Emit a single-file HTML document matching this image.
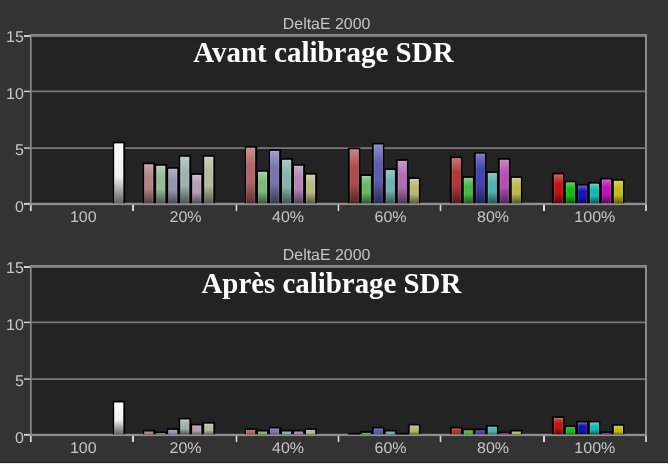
<!DOCTYPE html>
<html lang="fr"><head><meta charset="utf-8"><title>DeltaE 2000</title>
<style>
html,body{margin:0;padding:0;background:#333333;overflow:hidden}
svg{display:block}
.lab{text-rendering:geometricPrecision;font-family:"Liberation Sans","DejaVu Sans",sans-serif;font-size:16px;fill:#c6c6c6}
.ttl{font-family:"Liberation Serif","DejaVu Serif",serif;font-weight:bold;font-size:29px;fill:#ffffff}
</style></head><body>
<svg width="668" height="464" viewBox="0 0 668 464" style="will-change:transform">
<defs>
<linearGradient id="g1" x1="0" y1="0" x2="0" y2="1"><stop offset="0" stop-color="#fafafa"/><stop offset="0.56" stop-color="#f0f0f0"/><stop offset="1" stop-color="#606060"/></linearGradient>
<linearGradient id="g2" x1="0" y1="0" x2="0" y2="1"><stop offset="0" stop-color="#caa8a8"/><stop offset="0.32" stop-color="#b38282"/><stop offset="0.62" stop-color="#b38282"/><stop offset="1" stop-color="#563e3e"/></linearGradient>
<linearGradient id="g3" x1="0" y1="0" x2="0" y2="1"><stop offset="0" stop-color="#b6cfb6"/><stop offset="0.32" stop-color="#96ba96"/><stop offset="0.62" stop-color="#96ba96"/><stop offset="1" stop-color="#485948"/></linearGradient>
<linearGradient id="g4" x1="0" y1="0" x2="0" y2="1"><stop offset="0" stop-color="#b4b4c8"/><stop offset="0.32" stop-color="#9494b0"/><stop offset="0.62" stop-color="#9494b0"/><stop offset="1" stop-color="#474754"/></linearGradient>
<linearGradient id="g5" x1="0" y1="0" x2="0" y2="1"><stop offset="0" stop-color="#bccac8"/><stop offset="0.32" stop-color="#a0b3b1"/><stop offset="0.62" stop-color="#a0b3b1"/><stop offset="1" stop-color="#4d5655"/></linearGradient>
<linearGradient id="g6" x1="0" y1="0" x2="0" y2="1"><stop offset="0" stop-color="#cabbca"/><stop offset="0.32" stop-color="#b49eb4"/><stop offset="0.62" stop-color="#b49eb4"/><stop offset="1" stop-color="#564c56"/></linearGradient>
<linearGradient id="g7" x1="0" y1="0" x2="0" y2="1"><stop offset="0" stop-color="#cecebb"/><stop offset="0.32" stop-color="#b9b99e"/><stop offset="0.62" stop-color="#b9b99e"/><stop offset="1" stop-color="#59594c"/></linearGradient>
<linearGradient id="g8" x1="0" y1="0" x2="0" y2="1"><stop offset="0" stop-color="#ca9292"/><stop offset="0.32" stop-color="#b36464"/><stop offset="0.62" stop-color="#b36464"/><stop offset="1" stop-color="#563030"/></linearGradient>
<linearGradient id="g9" x1="0" y1="0" x2="0" y2="1"><stop offset="0" stop-color="#a3cfa3"/><stop offset="0.32" stop-color="#7cba7c"/><stop offset="0.62" stop-color="#7cba7c"/><stop offset="1" stop-color="#3c593c"/></linearGradient>
<linearGradient id="g10" x1="0" y1="0" x2="0" y2="1"><stop offset="0" stop-color="#9f9fc8"/><stop offset="0.32" stop-color="#7676b0"/><stop offset="0.62" stop-color="#7676b0"/><stop offset="1" stop-color="#393954"/></linearGradient>
<linearGradient id="g11" x1="0" y1="0" x2="0" y2="1"><stop offset="0" stop-color="#accac8"/><stop offset="0.32" stop-color="#88b3b1"/><stop offset="0.62" stop-color="#88b3b1"/><stop offset="1" stop-color="#415655"/></linearGradient>
<linearGradient id="g12" x1="0" y1="0" x2="0" y2="1"><stop offset="0" stop-color="#caa9ca"/><stop offset="0.32" stop-color="#b484b4"/><stop offset="0.62" stop-color="#b484b4"/><stop offset="1" stop-color="#563f56"/></linearGradient>
<linearGradient id="g13" x1="0" y1="0" x2="0" y2="1"><stop offset="0" stop-color="#ceceac"/><stop offset="0.32" stop-color="#b9b988"/><stop offset="0.62" stop-color="#b9b988"/><stop offset="1" stop-color="#595941"/></linearGradient>
<linearGradient id="g14" x1="0" y1="0" x2="0" y2="1"><stop offset="0" stop-color="#ca8181"/><stop offset="0.32" stop-color="#b34b4b"/><stop offset="0.62" stop-color="#b34b4b"/><stop offset="1" stop-color="#562424"/></linearGradient>
<linearGradient id="g15" x1="0" y1="0" x2="0" y2="1"><stop offset="0" stop-color="#92cf92"/><stop offset="0.32" stop-color="#64ba64"/><stop offset="0.62" stop-color="#64ba64"/><stop offset="1" stop-color="#305930"/></linearGradient>
<linearGradient id="g16" x1="0" y1="0" x2="0" y2="1"><stop offset="0" stop-color="#8d8dc8"/><stop offset="0.32" stop-color="#5c5cb0"/><stop offset="0.62" stop-color="#5c5cb0"/><stop offset="1" stop-color="#2c2c54"/></linearGradient>
<linearGradient id="g17" x1="0" y1="0" x2="0" y2="1"><stop offset="0" stop-color="#9acac8"/><stop offset="0.32" stop-color="#6eb3b1"/><stop offset="0.62" stop-color="#6eb3b1"/><stop offset="1" stop-color="#355655"/></linearGradient>
<linearGradient id="g18" x1="0" y1="0" x2="0" y2="1"><stop offset="0" stop-color="#ca98ca"/><stop offset="0.32" stop-color="#b46cb4"/><stop offset="0.62" stop-color="#b46cb4"/><stop offset="1" stop-color="#563456"/></linearGradient>
<linearGradient id="g19" x1="0" y1="0" x2="0" y2="1"><stop offset="0" stop-color="#cece9a"/><stop offset="0.32" stop-color="#b9b96e"/><stop offset="0.62" stop-color="#b9b96e"/><stop offset="1" stop-color="#595935"/></linearGradient>
<linearGradient id="g20" x1="0" y1="0" x2="0" y2="1"><stop offset="0" stop-color="#ca7373"/><stop offset="0.32" stop-color="#b33737"/><stop offset="0.62" stop-color="#b33737"/><stop offset="1" stop-color="#561a1a"/></linearGradient>
<linearGradient id="g21" x1="0" y1="0" x2="0" y2="1"><stop offset="0" stop-color="#7ecf7e"/><stop offset="0.32" stop-color="#46ba46"/><stop offset="0.62" stop-color="#46ba46"/><stop offset="1" stop-color="#225922"/></linearGradient>
<linearGradient id="g22" x1="0" y1="0" x2="0" y2="1"><stop offset="0" stop-color="#7c7cc8"/><stop offset="0.32" stop-color="#4444b0"/><stop offset="0.62" stop-color="#4444b0"/><stop offset="1" stop-color="#212154"/></linearGradient>
<linearGradient id="g23" x1="0" y1="0" x2="0" y2="1"><stop offset="0" stop-color="#84cac8"/><stop offset="0.32" stop-color="#50b3b1"/><stop offset="0.62" stop-color="#50b3b1"/><stop offset="1" stop-color="#265655"/></linearGradient>
<linearGradient id="g24" x1="0" y1="0" x2="0" y2="1"><stop offset="0" stop-color="#ca84ca"/><stop offset="0.32" stop-color="#b450b4"/><stop offset="0.62" stop-color="#b450b4"/><stop offset="1" stop-color="#562656"/></linearGradient>
<linearGradient id="g25" x1="0" y1="0" x2="0" y2="1"><stop offset="0" stop-color="#cece84"/><stop offset="0.32" stop-color="#b9b950"/><stop offset="0.62" stop-color="#b9b950"/><stop offset="1" stop-color="#595926"/></linearGradient>
<linearGradient id="g26" x1="0" y1="0" x2="0" y2="1"><stop offset="0" stop-color="#d65a5a"/><stop offset="0.32" stop-color="#c41414"/><stop offset="0.62" stop-color="#c41414"/><stop offset="1" stop-color="#5e0a0a"/></linearGradient>
<linearGradient id="g27" x1="0" y1="0" x2="0" y2="1"><stop offset="0" stop-color="#5acf5a"/><stop offset="0.32" stop-color="#14ba14"/><stop offset="0.62" stop-color="#14ba14"/><stop offset="1" stop-color="#0a590a"/></linearGradient>
<linearGradient id="g28" x1="0" y1="0" x2="0" y2="1"><stop offset="0" stop-color="#5c5ccd"/><stop offset="0.32" stop-color="#1616b8"/><stop offset="0.62" stop-color="#1616b8"/><stop offset="1" stop-color="#0b0b58"/></linearGradient>
<linearGradient id="g29" x1="0" y1="0" x2="0" y2="1"><stop offset="0" stop-color="#5acdcd"/><stop offset="0.32" stop-color="#14b8b8"/><stop offset="0.62" stop-color="#14b8b8"/><stop offset="1" stop-color="#0a5858"/></linearGradient>
<linearGradient id="g30" x1="0" y1="0" x2="0" y2="1"><stop offset="0" stop-color="#d05ad0"/><stop offset="0.32" stop-color="#bc14bc"/><stop offset="0.62" stop-color="#bc14bc"/><stop offset="1" stop-color="#5a0a5a"/></linearGradient>
<linearGradient id="g31" x1="0" y1="0" x2="0" y2="1"><stop offset="0" stop-color="#d6d25a"/><stop offset="0.32" stop-color="#c4be14"/><stop offset="0.62" stop-color="#c4be14"/><stop offset="1" stop-color="#5e5b0a"/></linearGradient>
<linearGradient id="g32" x1="0" y1="0" x2="0" y2="1"><stop offset="0" stop-color="#b98b8b"/><stop offset="0.32" stop-color="#b38282"/><stop offset="0.62" stop-color="#b38282"/><stop offset="1" stop-color="#9c7171"/></linearGradient>
<linearGradient id="g33" x1="0" y1="0" x2="0" y2="1"><stop offset="0" stop-color="#9ebf9e"/><stop offset="0.32" stop-color="#96ba96"/><stop offset="0.62" stop-color="#96ba96"/><stop offset="1" stop-color="#82a282"/></linearGradient>
<linearGradient id="g34" x1="0" y1="0" x2="0" y2="1"><stop offset="0" stop-color="#a0a0b9"/><stop offset="0.32" stop-color="#9494b0"/><stop offset="0.62" stop-color="#9494b0"/><stop offset="1" stop-color="#78788f"/></linearGradient>
<linearGradient id="g35" x1="0" y1="0" x2="0" y2="1"><stop offset="0" stop-color="#c4b3c4"/><stop offset="0.32" stop-color="#b49eb4"/><stop offset="0.62" stop-color="#b49eb4"/><stop offset="1" stop-color="#706270"/></linearGradient>
<linearGradient id="g36" x1="0" y1="0" x2="0" y2="1"><stop offset="0" stop-color="#cbcbb8"/><stop offset="0.32" stop-color="#b9b99e"/><stop offset="0.62" stop-color="#b9b99e"/><stop offset="1" stop-color="#646456"/></linearGradient>
<linearGradient id="g37" x1="0" y1="0" x2="0" y2="1"><stop offset="0" stop-color="#bb7575"/><stop offset="0.32" stop-color="#b36464"/><stop offset="0.62" stop-color="#b36464"/><stop offset="1" stop-color="#915151"/></linearGradient>
<linearGradient id="g38" x1="0" y1="0" x2="0" y2="1"><stop offset="0" stop-color="#86bf86"/><stop offset="0.32" stop-color="#7cba7c"/><stop offset="0.62" stop-color="#7cba7c"/><stop offset="1" stop-color="#6ca26c"/></linearGradient>
<linearGradient id="g39" x1="0" y1="0" x2="0" y2="1"><stop offset="0" stop-color="#8a8abb"/><stop offset="0.32" stop-color="#7676b0"/><stop offset="0.62" stop-color="#7676b0"/><stop offset="1" stop-color="#595984"/></linearGradient>
<linearGradient id="g40" x1="0" y1="0" x2="0" y2="1"><stop offset="0" stop-color="#91b9b7"/><stop offset="0.32" stop-color="#88b3b1"/><stop offset="0.62" stop-color="#88b3b1"/><stop offset="1" stop-color="#769c9a"/></linearGradient>
<linearGradient id="g41" x1="0" y1="0" x2="0" y2="1"><stop offset="0" stop-color="#ba8dba"/><stop offset="0.32" stop-color="#b484b4"/><stop offset="0.62" stop-color="#b484b4"/><stop offset="1" stop-color="#9d739d"/></linearGradient>
<linearGradient id="g42" x1="0" y1="0" x2="0" y2="1"><stop offset="0" stop-color="#c1c195"/><stop offset="0.32" stop-color="#b9b988"/><stop offset="0.62" stop-color="#b9b988"/><stop offset="1" stop-color="#96966f"/></linearGradient>
<linearGradient id="g43" x1="0" y1="0" x2="0" y2="1"><stop offset="0" stop-color="#70bf70"/><stop offset="0.32" stop-color="#64ba64"/><stop offset="0.62" stop-color="#64ba64"/><stop offset="1" stop-color="#57a257"/></linearGradient>
<linearGradient id="g44" x1="0" y1="0" x2="0" y2="1"><stop offset="0" stop-color="#7373bb"/><stop offset="0.32" stop-color="#5c5cb0"/><stop offset="0.62" stop-color="#5c5cb0"/><stop offset="1" stop-color="#454584"/></linearGradient>
<linearGradient id="g45" x1="0" y1="0" x2="0" y2="1"><stop offset="0" stop-color="#79b9b7"/><stop offset="0.32" stop-color="#6eb3b1"/><stop offset="0.62" stop-color="#6eb3b1"/><stop offset="1" stop-color="#609c9a"/></linearGradient>
<linearGradient id="g46" x1="0" y1="0" x2="0" y2="1"><stop offset="0" stop-color="#c8c88e"/><stop offset="0.32" stop-color="#b9b96e"/><stop offset="0.62" stop-color="#b9b96e"/><stop offset="1" stop-color="#737344"/></linearGradient>
<linearGradient id="g47" x1="0" y1="0" x2="0" y2="1"><stop offset="0" stop-color="#be5454"/><stop offset="0.32" stop-color="#b33737"/><stop offset="0.62" stop-color="#b33737"/><stop offset="1" stop-color="#862929"/></linearGradient>
<linearGradient id="g48" x1="0" y1="0" x2="0" y2="1"><stop offset="0" stop-color="#58c158"/><stop offset="0.32" stop-color="#46ba46"/><stop offset="0.62" stop-color="#46ba46"/><stop offset="1" stop-color="#3a9a3a"/></linearGradient>
<linearGradient id="g49" x1="0" y1="0" x2="0" y2="1"><stop offset="0" stop-color="#5757b8"/><stop offset="0.32" stop-color="#4444b0"/><stop offset="0.62" stop-color="#4444b0"/><stop offset="1" stop-color="#383892"/></linearGradient>
<linearGradient id="g50" x1="0" y1="0" x2="0" y2="1"><stop offset="0" stop-color="#71c1c0"/><stop offset="0.32" stop-color="#50b3b1"/><stop offset="0.62" stop-color="#50b3b1"/><stop offset="1" stop-color="#367877"/></linearGradient>
<linearGradient id="g51" x1="0" y1="0" x2="0" y2="1"><stop offset="0" stop-color="#ba5dba"/><stop offset="0.32" stop-color="#b450b4"/><stop offset="0.62" stop-color="#b450b4"/><stop offset="1" stop-color="#9d469d"/></linearGradient>
<linearGradient id="g52" x1="0" y1="0" x2="0" y2="1"><stop offset="0" stop-color="#bebe5d"/><stop offset="0.32" stop-color="#b9b950"/><stop offset="0.62" stop-color="#b9b950"/><stop offset="1" stop-color="#a1a146"/></linearGradient>
<linearGradient id="g53" x1="0" y1="0" x2="0" y2="1"><stop offset="0" stop-color="#3ec63e"/><stop offset="0.32" stop-color="#14ba14"/><stop offset="0.62" stop-color="#14ba14"/><stop offset="1" stop-color="#0e810e"/></linearGradient>
<linearGradient id="g54" x1="0" y1="0" x2="0" y2="1"><stop offset="0" stop-color="#5b5bcd"/><stop offset="0.32" stop-color="#1616b8"/><stop offset="0.62" stop-color="#1616b8"/><stop offset="1" stop-color="#0b0b5a"/></linearGradient>
<linearGradient id="g55" x1="0" y1="0" x2="0" y2="1"><stop offset="0" stop-color="#59cdcd"/><stop offset="0.32" stop-color="#14b8b8"/><stop offset="0.62" stop-color="#14b8b8"/><stop offset="1" stop-color="#0a5a5a"/></linearGradient>
<linearGradient id="g56" x1="0" y1="0" x2="0" y2="1"><stop offset="0" stop-color="#c126c1"/><stop offset="0.32" stop-color="#bc14bc"/><stop offset="0.62" stop-color="#bc14bc"/><stop offset="1" stop-color="#a411a4"/></linearGradient>
<linearGradient id="g57" x1="0" y1="0" x2="0" y2="1"><stop offset="0" stop-color="#d0cc45"/><stop offset="0.32" stop-color="#c4be14"/><stop offset="0.62" stop-color="#c4be14"/><stop offset="1" stop-color="#7d790d"/></linearGradient>
</defs>
<rect width="668" height="464" fill="#333333"/>
<rect x="30.8" y="34.8" width="615.2" height="169.05" fill="#232323"/>
<line x1="30.8" y1="148.05" x2="646.0" y2="148.05" stroke="#7a7a7a" stroke-width="1.75"/>
<line x1="30.8" y1="91.40" x2="646.0" y2="91.40" stroke="#7a7a7a" stroke-width="1.75"/>
<line x1="30.8" y1="36.20" x2="646.0" y2="36.20" stroke="#7a7a7a" stroke-width="1.75"/>
<rect x="29.900000000000002" y="202.80" width="617.10" height="2.3" fill="#8e8e8e"/>
<rect x="112.80" y="141.70" width="12.4" height="61.50" fill="#000"/>
<rect x="114.20" y="143.40" width="9.1" height="59.80" fill="url(#g1)"/>
<rect x="114.70" y="143.90" width="8.1" height="59.80" fill="none" stroke="#fff" stroke-opacity="0.12" stroke-width="1"/>
<rect x="142.80" y="162.60" width="12.4" height="40.60" fill="#000"/>
<rect x="144.20" y="164.30" width="9.1" height="38.90" fill="url(#g2)"/>
<rect x="144.70" y="164.80" width="8.1" height="38.90" fill="none" stroke="#fff" stroke-opacity="0.12" stroke-width="1"/>
<rect x="154.80" y="164.10" width="12.4" height="39.10" fill="#000"/>
<rect x="156.20" y="165.80" width="9.1" height="37.40" fill="url(#g3)"/>
<rect x="156.70" y="166.30" width="8.1" height="37.40" fill="none" stroke="#fff" stroke-opacity="0.12" stroke-width="1"/>
<rect x="166.80" y="167.10" width="12.4" height="36.10" fill="#000"/>
<rect x="168.20" y="168.80" width="9.1" height="34.40" fill="url(#g4)"/>
<rect x="168.70" y="169.30" width="8.1" height="34.40" fill="none" stroke="#fff" stroke-opacity="0.12" stroke-width="1"/>
<rect x="178.80" y="155.10" width="12.4" height="48.10" fill="#000"/>
<rect x="180.20" y="156.80" width="9.1" height="46.40" fill="url(#g5)"/>
<rect x="180.70" y="157.30" width="8.1" height="46.40" fill="none" stroke="#fff" stroke-opacity="0.12" stroke-width="1"/>
<rect x="190.80" y="173.20" width="12.4" height="30.00" fill="#000"/>
<rect x="192.20" y="174.90" width="9.1" height="28.30" fill="url(#g6)"/>
<rect x="192.70" y="175.40" width="8.1" height="28.30" fill="none" stroke="#fff" stroke-opacity="0.12" stroke-width="1"/>
<rect x="202.80" y="155.10" width="12.4" height="48.10" fill="#000"/>
<rect x="204.20" y="156.80" width="9.1" height="46.40" fill="url(#g7)"/>
<rect x="204.70" y="157.30" width="8.1" height="46.40" fill="none" stroke="#fff" stroke-opacity="0.12" stroke-width="1"/>
<rect x="244.80" y="146.00" width="12.4" height="57.20" fill="#000"/>
<rect x="246.05" y="147.70" width="9.1" height="55.50" fill="url(#g8)"/>
<rect x="246.55" y="148.20" width="8.1" height="55.50" fill="none" stroke="#fff" stroke-opacity="0.12" stroke-width="1"/>
<rect x="256.80" y="170.10" width="12.4" height="33.10" fill="#000"/>
<rect x="258.05" y="171.80" width="9.1" height="31.40" fill="url(#g9)"/>
<rect x="258.55" y="172.30" width="8.1" height="31.40" fill="none" stroke="#fff" stroke-opacity="0.12" stroke-width="1"/>
<rect x="268.80" y="149.20" width="12.4" height="54.00" fill="#000"/>
<rect x="270.05" y="150.90" width="9.1" height="52.30" fill="url(#g10)"/>
<rect x="270.55" y="151.40" width="8.1" height="52.30" fill="none" stroke="#fff" stroke-opacity="0.12" stroke-width="1"/>
<rect x="280.80" y="158.10" width="12.4" height="45.10" fill="#000"/>
<rect x="282.05" y="159.80" width="9.1" height="43.40" fill="url(#g11)"/>
<rect x="282.55" y="160.30" width="8.1" height="43.40" fill="none" stroke="#fff" stroke-opacity="0.12" stroke-width="1"/>
<rect x="292.80" y="164.10" width="12.4" height="39.10" fill="#000"/>
<rect x="294.05" y="165.80" width="9.1" height="37.40" fill="url(#g12)"/>
<rect x="294.55" y="166.30" width="8.1" height="37.40" fill="none" stroke="#fff" stroke-opacity="0.12" stroke-width="1"/>
<rect x="304.80" y="173.00" width="12.4" height="30.20" fill="#000"/>
<rect x="306.05" y="174.70" width="9.1" height="28.50" fill="url(#g13)"/>
<rect x="306.55" y="175.20" width="8.1" height="28.50" fill="none" stroke="#fff" stroke-opacity="0.12" stroke-width="1"/>
<rect x="347.90" y="147.60" width="12.4" height="55.60" fill="#000"/>
<rect x="349.75" y="149.30" width="9.1" height="53.90" fill="url(#g14)"/>
<rect x="350.25" y="149.80" width="8.1" height="53.90" fill="none" stroke="#fff" stroke-opacity="0.12" stroke-width="1"/>
<rect x="359.90" y="174.30" width="12.4" height="28.90" fill="#000"/>
<rect x="361.75" y="176.00" width="9.1" height="27.20" fill="url(#g15)"/>
<rect x="362.25" y="176.50" width="8.1" height="27.20" fill="none" stroke="#fff" stroke-opacity="0.12" stroke-width="1"/>
<rect x="371.90" y="142.80" width="12.4" height="60.40" fill="#000"/>
<rect x="373.75" y="144.50" width="9.1" height="58.70" fill="url(#g16)"/>
<rect x="374.25" y="145.00" width="8.1" height="58.70" fill="none" stroke="#fff" stroke-opacity="0.12" stroke-width="1"/>
<rect x="383.90" y="168.40" width="12.4" height="34.80" fill="#000"/>
<rect x="385.75" y="170.10" width="9.1" height="33.10" fill="url(#g17)"/>
<rect x="386.25" y="170.60" width="8.1" height="33.10" fill="none" stroke="#fff" stroke-opacity="0.12" stroke-width="1"/>
<rect x="395.90" y="159.20" width="12.4" height="44.00" fill="#000"/>
<rect x="397.75" y="160.90" width="9.1" height="42.30" fill="url(#g18)"/>
<rect x="398.25" y="161.40" width="8.1" height="42.30" fill="none" stroke="#fff" stroke-opacity="0.12" stroke-width="1"/>
<rect x="407.90" y="177.30" width="12.4" height="25.90" fill="#000"/>
<rect x="409.75" y="179.00" width="9.1" height="24.20" fill="url(#g19)"/>
<rect x="410.25" y="179.50" width="8.1" height="24.20" fill="none" stroke="#fff" stroke-opacity="0.12" stroke-width="1"/>
<rect x="449.90" y="156.50" width="12.4" height="46.70" fill="#000"/>
<rect x="451.75" y="158.20" width="9.1" height="45.00" fill="url(#g20)"/>
<rect x="452.25" y="158.70" width="8.1" height="45.00" fill="none" stroke="#fff" stroke-opacity="0.12" stroke-width="1"/>
<rect x="461.90" y="176.20" width="12.4" height="27.00" fill="#000"/>
<rect x="463.75" y="177.90" width="9.1" height="25.30" fill="url(#g21)"/>
<rect x="464.25" y="178.40" width="8.1" height="25.30" fill="none" stroke="#fff" stroke-opacity="0.12" stroke-width="1"/>
<rect x="473.90" y="152.00" width="12.4" height="51.20" fill="#000"/>
<rect x="475.75" y="153.70" width="9.1" height="49.50" fill="url(#g22)"/>
<rect x="476.25" y="154.20" width="8.1" height="49.50" fill="none" stroke="#fff" stroke-opacity="0.12" stroke-width="1"/>
<rect x="485.90" y="171.40" width="12.4" height="31.80" fill="#000"/>
<rect x="487.75" y="173.10" width="9.1" height="30.10" fill="url(#g23)"/>
<rect x="488.25" y="173.60" width="8.1" height="30.10" fill="none" stroke="#fff" stroke-opacity="0.12" stroke-width="1"/>
<rect x="497.90" y="158.10" width="12.4" height="45.10" fill="#000"/>
<rect x="499.75" y="159.80" width="9.1" height="43.40" fill="url(#g24)"/>
<rect x="500.25" y="160.30" width="8.1" height="43.40" fill="none" stroke="#fff" stroke-opacity="0.12" stroke-width="1"/>
<rect x="509.90" y="176.20" width="12.4" height="27.00" fill="#000"/>
<rect x="511.75" y="177.90" width="9.1" height="25.30" fill="url(#g25)"/>
<rect x="512.25" y="178.40" width="8.1" height="25.30" fill="none" stroke="#fff" stroke-opacity="0.12" stroke-width="1"/>
<rect x="551.90" y="172.80" width="12.4" height="30.40" fill="#000"/>
<rect x="553.85" y="174.50" width="9.1" height="28.70" fill="url(#g26)"/>
<rect x="554.35" y="175.00" width="8.1" height="28.70" fill="none" stroke="#fff" stroke-opacity="0.12" stroke-width="1"/>
<rect x="563.90" y="180.70" width="12.4" height="22.50" fill="#000"/>
<rect x="565.85" y="182.40" width="9.1" height="20.80" fill="url(#g27)"/>
<rect x="566.35" y="182.90" width="8.1" height="20.80" fill="none" stroke="#fff" stroke-opacity="0.12" stroke-width="1"/>
<rect x="575.90" y="183.90" width="12.4" height="19.30" fill="#000"/>
<rect x="577.85" y="185.60" width="9.1" height="17.60" fill="url(#g28)"/>
<rect x="578.35" y="186.10" width="8.1" height="17.60" fill="none" stroke="#fff" stroke-opacity="0.12" stroke-width="1"/>
<rect x="587.90" y="182.00" width="12.4" height="21.20" fill="#000"/>
<rect x="589.85" y="183.70" width="9.1" height="19.50" fill="url(#g29)"/>
<rect x="590.35" y="184.20" width="8.1" height="19.50" fill="none" stroke="#fff" stroke-opacity="0.12" stroke-width="1"/>
<rect x="599.90" y="177.80" width="12.4" height="25.40" fill="#000"/>
<rect x="601.85" y="179.50" width="9.1" height="23.70" fill="url(#g30)"/>
<rect x="602.35" y="180.00" width="8.1" height="23.70" fill="none" stroke="#fff" stroke-opacity="0.12" stroke-width="1"/>
<rect x="611.90" y="179.10" width="12.4" height="24.10" fill="#000"/>
<rect x="613.85" y="180.80" width="9.1" height="22.40" fill="url(#g31)"/>
<rect x="614.35" y="181.30" width="8.1" height="22.40" fill="none" stroke="#fff" stroke-opacity="0.12" stroke-width="1"/>
<line x1="30.8" y1="34.10" x2="30.8" y2="204.95" stroke="#8a8a8a" stroke-width="1.7"/>
<line x1="646.0" y1="34.10" x2="646.0" y2="204.95" stroke="#8a8a8a" stroke-width="2"/>
<line x1="29.900000000000002" y1="34.80" x2="647.0" y2="34.80" stroke="#8e8e8e" stroke-width="1.4"/>
<line x1="24" y1="203.85" x2="29.90" y2="203.85" stroke="#d6d6d6" stroke-width="1.9"/>
<text transform="translate(23.9,211.90) scale(1,0.97)" text-anchor="end" class="lab">0</text>
<line x1="24" y1="148.05" x2="29.90" y2="148.05" stroke="#d6d6d6" stroke-width="1.4"/>
<text transform="translate(23.9,154.60) scale(1,0.97)" text-anchor="end" class="lab">5</text>
<line x1="24" y1="91.40" x2="29.90" y2="91.40" stroke="#d6d6d6" stroke-width="1.4"/>
<text transform="translate(23.9,98.90) scale(1,0.97)" text-anchor="end" class="lab">10</text>
<line x1="24" y1="36.00" x2="29.90" y2="36.00" stroke="#d6d6d6" stroke-width="1.9"/>
<text transform="translate(23.9,42.00) scale(1,0.97)" text-anchor="end" class="lab">15</text>
<line x1="30.80" y1="204.75" x2="30.80" y2="211.10" stroke="#d6d6d6" stroke-width="1.8"/>
<line x1="133.00" y1="204.75" x2="133.00" y2="211.10" stroke="#d6d6d6" stroke-width="2.0"/>
<line x1="236.50" y1="204.75" x2="236.50" y2="211.10" stroke="#d6d6d6" stroke-width="1.6"/>
<line x1="338.50" y1="204.75" x2="338.50" y2="211.10" stroke="#d6d6d6" stroke-width="1.6"/>
<line x1="440.50" y1="204.75" x2="440.50" y2="211.10" stroke="#d6d6d6" stroke-width="1.6"/>
<line x1="544.00" y1="204.75" x2="544.00" y2="211.10" stroke="#d6d6d6" stroke-width="2.0"/>
<line x1="646.00" y1="204.75" x2="646.00" y2="211.10" stroke="#d6d6d6" stroke-width="1.8"/>
<text transform="translate(83.30,221.8) scale(1,0.97)" text-anchor="middle" class="lab">100</text>
<text transform="translate(185.50,221.8) scale(1,0.97)" text-anchor="middle" class="lab">20%</text>
<text transform="translate(288.00,221.8) scale(1,0.97)" text-anchor="middle" class="lab">40%</text>
<text transform="translate(390.50,221.8) scale(1,0.97)" text-anchor="middle" class="lab">60%</text>
<text transform="translate(493.00,221.8) scale(1,0.97)" text-anchor="middle" class="lab">80%</text>
<text transform="translate(594.80,221.8) scale(1,0.97)" text-anchor="middle" class="lab">100%</text>
<text transform="translate(326.6,28.7) scale(1,1.0)" text-anchor="middle" class="lab" style="font-size:15.9px">DeltaE 2000</text>
<text transform="translate(323.4,62.4) scale(1,1.02)" text-anchor="middle" class="ttl" style="font-size:29px">Avant calibrage SDR</text>
<rect x="30.8" y="265.8" width="615.2" height="169.05" fill="#232323"/>
<line x1="30.8" y1="379.05" x2="646.0" y2="379.05" stroke="#7a7a7a" stroke-width="1.75"/>
<line x1="30.8" y1="322.40" x2="646.0" y2="322.40" stroke="#7a7a7a" stroke-width="1.75"/>
<line x1="30.8" y1="267.20" x2="646.0" y2="267.20" stroke="#7a7a7a" stroke-width="1.75"/>
<rect x="29.900000000000002" y="433.80" width="617.10" height="2.3" fill="#8e8e8e"/>
<rect x="112.80" y="400.80" width="12.4" height="33.40" fill="#000"/>
<rect x="114.20" y="402.50" width="9.1" height="31.70" fill="url(#g1)"/>
<rect x="114.70" y="403.00" width="8.1" height="31.70" fill="none" stroke="#fff" stroke-opacity="0.12" stroke-width="1"/>
<rect x="142.80" y="429.80" width="12.4" height="4.40" fill="#000"/>
<rect x="144.20" y="431.50" width="9.1" height="2.70" fill="url(#g32)"/>
<rect x="154.80" y="431.60" width="12.4" height="2.60" fill="#000"/>
<rect x="156.20" y="433.30" width="9.1" height="0.90" fill="url(#g33)"/>
<rect x="166.80" y="428.20" width="12.4" height="6.00" fill="#000"/>
<rect x="168.20" y="429.90" width="9.1" height="4.30" fill="url(#g34)"/>
<rect x="168.70" y="430.40" width="8.1" height="4.30" fill="none" stroke="#fff" stroke-opacity="0.12" stroke-width="1"/>
<rect x="178.80" y="417.80" width="12.4" height="16.40" fill="#000"/>
<rect x="180.20" y="419.50" width="9.1" height="14.70" fill="url(#g5)"/>
<rect x="180.70" y="420.00" width="8.1" height="14.70" fill="none" stroke="#fff" stroke-opacity="0.12" stroke-width="1"/>
<rect x="190.80" y="423.80" width="12.4" height="10.40" fill="#000"/>
<rect x="192.20" y="425.50" width="9.1" height="8.70" fill="url(#g35)"/>
<rect x="192.70" y="426.00" width="8.1" height="8.70" fill="none" stroke="#fff" stroke-opacity="0.12" stroke-width="1"/>
<rect x="202.80" y="422.00" width="12.4" height="12.20" fill="#000"/>
<rect x="204.20" y="423.70" width="9.1" height="10.50" fill="url(#g36)"/>
<rect x="204.70" y="424.20" width="8.1" height="10.50" fill="none" stroke="#fff" stroke-opacity="0.12" stroke-width="1"/>
<rect x="244.80" y="428.20" width="12.4" height="6.00" fill="#000"/>
<rect x="246.05" y="429.90" width="9.1" height="4.30" fill="url(#g37)"/>
<rect x="246.55" y="430.40" width="8.1" height="4.30" fill="none" stroke="#fff" stroke-opacity="0.12" stroke-width="1"/>
<rect x="256.80" y="429.80" width="12.4" height="4.40" fill="#000"/>
<rect x="258.05" y="431.50" width="9.1" height="2.70" fill="url(#g38)"/>
<rect x="268.80" y="426.80" width="12.4" height="7.40" fill="#000"/>
<rect x="270.05" y="428.50" width="9.1" height="5.70" fill="url(#g39)"/>
<rect x="270.55" y="429.00" width="8.1" height="5.70" fill="none" stroke="#fff" stroke-opacity="0.12" stroke-width="1"/>
<rect x="280.80" y="429.80" width="12.4" height="4.40" fill="#000"/>
<rect x="282.05" y="431.50" width="9.1" height="2.70" fill="url(#g40)"/>
<rect x="292.80" y="429.80" width="12.4" height="4.40" fill="#000"/>
<rect x="294.05" y="431.50" width="9.1" height="2.70" fill="url(#g41)"/>
<rect x="304.80" y="428.20" width="12.4" height="6.00" fill="#000"/>
<rect x="306.05" y="429.90" width="9.1" height="4.30" fill="url(#g42)"/>
<rect x="306.55" y="430.40" width="8.1" height="4.30" fill="none" stroke="#fff" stroke-opacity="0.12" stroke-width="1"/>
<rect x="347.90" y="432.75" width="12.4" height="1.80" fill="#000"/>
<rect x="359.90" y="431.20" width="12.4" height="3.00" fill="#000"/>
<rect x="361.75" y="432.90" width="9.1" height="1.30" fill="url(#g43)"/>
<rect x="371.90" y="426.80" width="12.4" height="7.40" fill="#000"/>
<rect x="373.75" y="428.50" width="9.1" height="5.70" fill="url(#g44)"/>
<rect x="374.25" y="429.00" width="8.1" height="5.70" fill="none" stroke="#fff" stroke-opacity="0.12" stroke-width="1"/>
<rect x="383.90" y="429.80" width="12.4" height="4.40" fill="#000"/>
<rect x="385.75" y="431.50" width="9.1" height="2.70" fill="url(#g45)"/>
<rect x="395.90" y="432.75" width="12.4" height="1.80" fill="#000"/>
<rect x="407.90" y="423.80" width="12.4" height="10.40" fill="#000"/>
<rect x="409.75" y="425.50" width="9.1" height="8.70" fill="url(#g46)"/>
<rect x="410.25" y="426.00" width="8.1" height="8.70" fill="none" stroke="#fff" stroke-opacity="0.12" stroke-width="1"/>
<rect x="449.90" y="426.80" width="12.4" height="7.40" fill="#000"/>
<rect x="451.75" y="428.50" width="9.1" height="5.70" fill="url(#g47)"/>
<rect x="452.25" y="429.00" width="8.1" height="5.70" fill="none" stroke="#fff" stroke-opacity="0.12" stroke-width="1"/>
<rect x="461.90" y="428.60" width="12.4" height="5.60" fill="#000"/>
<rect x="463.75" y="430.30" width="9.1" height="3.90" fill="url(#g48)"/>
<rect x="464.25" y="430.80" width="8.1" height="3.90" fill="none" stroke="#fff" stroke-opacity="0.12" stroke-width="1"/>
<rect x="473.90" y="428.60" width="12.4" height="5.60" fill="#000"/>
<rect x="475.75" y="430.30" width="9.1" height="3.90" fill="url(#g49)"/>
<rect x="476.25" y="430.80" width="8.1" height="3.90" fill="none" stroke="#fff" stroke-opacity="0.12" stroke-width="1"/>
<rect x="485.90" y="425.00" width="12.4" height="9.20" fill="#000"/>
<rect x="487.75" y="426.70" width="9.1" height="7.50" fill="url(#g50)"/>
<rect x="488.25" y="427.20" width="8.1" height="7.50" fill="none" stroke="#fff" stroke-opacity="0.12" stroke-width="1"/>
<rect x="497.90" y="431.60" width="12.4" height="2.60" fill="#000"/>
<rect x="499.75" y="433.30" width="9.1" height="0.90" fill="url(#g51)"/>
<rect x="509.90" y="429.80" width="12.4" height="4.40" fill="#000"/>
<rect x="511.75" y="431.50" width="9.1" height="2.70" fill="url(#g52)"/>
<rect x="551.90" y="416.20" width="12.4" height="18.00" fill="#000"/>
<rect x="553.85" y="417.90" width="9.1" height="16.30" fill="url(#g26)"/>
<rect x="554.35" y="418.40" width="8.1" height="16.30" fill="none" stroke="#fff" stroke-opacity="0.12" stroke-width="1"/>
<rect x="563.90" y="425.40" width="12.4" height="8.80" fill="#000"/>
<rect x="565.85" y="427.10" width="9.1" height="7.10" fill="url(#g53)"/>
<rect x="566.35" y="427.60" width="8.1" height="7.10" fill="none" stroke="#fff" stroke-opacity="0.12" stroke-width="1"/>
<rect x="575.90" y="420.80" width="12.4" height="13.40" fill="#000"/>
<rect x="577.85" y="422.50" width="9.1" height="11.70" fill="url(#g54)"/>
<rect x="578.35" y="423.00" width="8.1" height="11.70" fill="none" stroke="#fff" stroke-opacity="0.12" stroke-width="1"/>
<rect x="587.90" y="420.80" width="12.4" height="13.40" fill="#000"/>
<rect x="589.85" y="422.50" width="9.1" height="11.70" fill="url(#g55)"/>
<rect x="590.35" y="423.00" width="8.1" height="11.70" fill="none" stroke="#fff" stroke-opacity="0.12" stroke-width="1"/>
<rect x="599.90" y="431.40" width="12.4" height="2.80" fill="#000"/>
<rect x="601.85" y="433.10" width="9.1" height="1.10" fill="url(#g56)"/>
<rect x="611.90" y="424.10" width="12.4" height="10.10" fill="#000"/>
<rect x="613.85" y="425.80" width="9.1" height="8.40" fill="url(#g57)"/>
<rect x="614.35" y="426.30" width="8.1" height="8.40" fill="none" stroke="#fff" stroke-opacity="0.12" stroke-width="1"/>
<line x1="30.8" y1="265.10" x2="30.8" y2="435.95" stroke="#8a8a8a" stroke-width="1.7"/>
<line x1="646.0" y1="265.10" x2="646.0" y2="435.95" stroke="#8a8a8a" stroke-width="2"/>
<line x1="29.900000000000002" y1="265.80" x2="647.0" y2="265.80" stroke="#8e8e8e" stroke-width="1.4"/>
<line x1="24" y1="434.85" x2="29.90" y2="434.85" stroke="#d6d6d6" stroke-width="1.9"/>
<text transform="translate(23.9,442.90) scale(1,0.97)" text-anchor="end" class="lab">0</text>
<line x1="24" y1="379.05" x2="29.90" y2="379.05" stroke="#d6d6d6" stroke-width="1.4"/>
<text transform="translate(23.9,385.60) scale(1,0.97)" text-anchor="end" class="lab">5</text>
<line x1="24" y1="322.40" x2="29.90" y2="322.40" stroke="#d6d6d6" stroke-width="1.4"/>
<text transform="translate(23.9,329.90) scale(1,0.97)" text-anchor="end" class="lab">10</text>
<line x1="24" y1="267.00" x2="29.90" y2="267.00" stroke="#d6d6d6" stroke-width="1.9"/>
<text transform="translate(23.9,273.00) scale(1,0.97)" text-anchor="end" class="lab">15</text>
<line x1="30.80" y1="435.75" x2="30.80" y2="442.10" stroke="#d6d6d6" stroke-width="1.8"/>
<line x1="133.00" y1="435.75" x2="133.00" y2="442.10" stroke="#d6d6d6" stroke-width="2.0"/>
<line x1="236.50" y1="435.75" x2="236.50" y2="442.10" stroke="#d6d6d6" stroke-width="1.6"/>
<line x1="338.50" y1="435.75" x2="338.50" y2="442.10" stroke="#d6d6d6" stroke-width="1.6"/>
<line x1="440.50" y1="435.75" x2="440.50" y2="442.10" stroke="#d6d6d6" stroke-width="1.6"/>
<line x1="544.00" y1="435.75" x2="544.00" y2="442.10" stroke="#d6d6d6" stroke-width="2.0"/>
<line x1="646.00" y1="435.75" x2="646.00" y2="442.10" stroke="#d6d6d6" stroke-width="1.8"/>
<text transform="translate(83.30,452.8) scale(1,0.97)" text-anchor="middle" class="lab">100</text>
<text transform="translate(185.50,452.8) scale(1,0.97)" text-anchor="middle" class="lab">20%</text>
<text transform="translate(288.00,452.8) scale(1,0.97)" text-anchor="middle" class="lab">40%</text>
<text transform="translate(390.50,452.8) scale(1,0.97)" text-anchor="middle" class="lab">60%</text>
<text transform="translate(493.00,452.8) scale(1,0.97)" text-anchor="middle" class="lab">80%</text>
<text transform="translate(594.80,452.8) scale(1,0.97)" text-anchor="middle" class="lab">100%</text>
<text transform="translate(326.6,259.7) scale(1,1.0)" text-anchor="middle" class="lab" style="font-size:15.9px">DeltaE 2000</text>
<text transform="translate(331.4,293.4) scale(1,1.02)" text-anchor="middle" class="ttl" style="font-size:28.88px">Après calibrage SDR</text>
<rect x="0" y="462" width="668" height="1" fill="#262626"/>
<rect x="0" y="463" width="668" height="1" fill="#e8e8e8"/>
</svg>
</body></html>
